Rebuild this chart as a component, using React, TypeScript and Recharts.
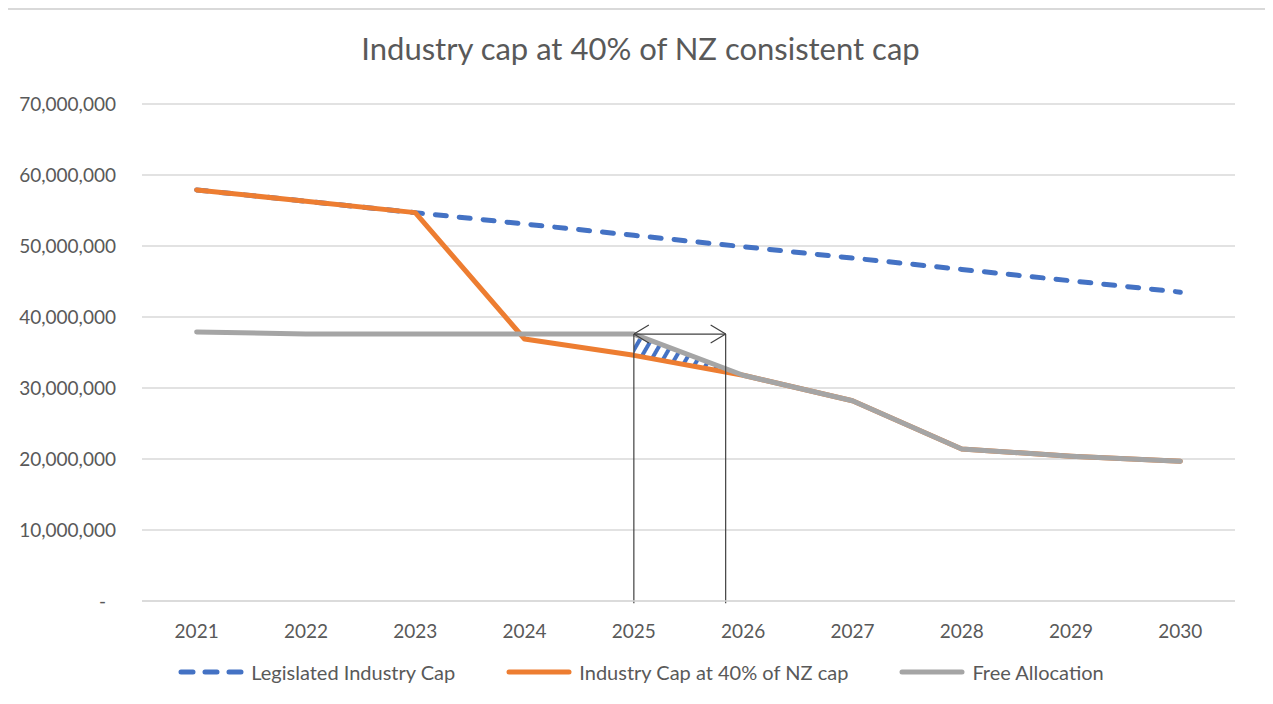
import React from 'react';
import { ComposedChart, Line, Area, XAxis, YAxis, CartesianGrid, ReferenceLine } from 'recharts';

const years = [2021, 2022, 2023, 2024, 2025, 2026, 2027, 2028, 2029, 2030];
const legislatedCap = [57900000, 56300000, 54700000, 53100000, 51500000, 49900000, 48300000, 46700000, 45100000, 43500000];
const industryCap40 = [57900000, 56300000, 54700000, 36900000, 34600000, 31800000, 28200000, 21400000, 20400000, 19700000];
const freeAllocation = [37900000, 37600000, 37600000, 37600000, 37600000, 31800000, 28200000, 21400000, 20400000, 19700000];
const hatchYears = [2025, 2026];
const yTicks = [0, 10000000, 20000000, 30000000, 40000000, 50000000, 60000000, 70000000];

const annotationStart = 2025;
const annotationEnd = 2025.84;
const annotationLevel = 37600000;
const annotationBottom = -300000;

const seriesNames = ['Legislated Industry Cap', 'Industry Cap at 40% of NZ cap', 'Free Allocation'];
const BLUE = '#4472C4';
const ORANGE = '#ED7D31';
const GRAY = '#A5A5A5';
const TEXT = '#595959';
const FONT = 'Lato, "Open Sans", sans-serif';

const data = years.map((year, i) => ({
  year,
  legislated: legislatedCap[i],
  industry: industryCap40[i],
  free: freeAllocation[i],
  hatch: hatchYears.includes(year) ? [industryCap40[i], freeAllocation[i]] : null,
}));

const fmt = (v: number) => v.toLocaleString('en-US');

const YTick = (props: any) => {
  const { x, y, payload } = props;
  const isZero = payload.value === 0;
  return (
    <text x={isZero ? x - 10 : x} y={y} dy="0.35em" textAnchor="end" fill={TEXT} fontSize={19} fontFamily={FONT}>
      {isZero ? '-' : fmt(payload.value)}
    </text>
  );
};

const ArrowLine = (props: any) => {
  const { x1, y1, x2, y2 } = props;
  return (
    <line x1={x1} y1={y1} x2={x2} y2={y2} stroke="#404040" strokeWidth={1.2}
      markerStart="url(#openArrow)" markerEnd="url(#openArrow)" />
  );
};

const PlainLine = (props: any) => {
  const { x1, y1, x2, y2 } = props;
  return <line x1={x1} y1={y1} x2={x2} y2={y2} stroke="#404040" strokeWidth={1.2} />;
};

const LegendRow = () => (
  <div style={{ position: 'absolute', left: 0, width: 1265, top: 650, display: 'flex', justifyContent: 'center', alignItems: 'center', fontFamily: FONT, fontSize: 20, color: TEXT }}>
    {seriesNames.map((name, i) => (
      <div key={name} style={{ display: 'flex', alignItems: 'center', marginRight: i < 2 ? 50 : 0 }}>
        <svg width={68} height={12} style={{ marginRight: 6 }}>
          <line x1={4} y1={6} x2={64} y2={6}
            stroke={[BLUE, ORANGE, GRAY][i]} strokeWidth={5}
            strokeLinecap="round"
            strokeDasharray={i === 0 ? '12 12' : undefined} />
        </svg>
        <span>{name}</span>
      </div>
    ))}
  </div>
);

export default function App() {
  return (
    <div style={{ position: 'relative', marginLeft: -2, width: 1267, height: 688, borderTop: '2px solid #d9d9d9', borderLeft: '2px solid #d9d9d9', boxSizing: 'border-box', background: '#fff' }}>
      <div style={{ position: 'absolute', left: 0, width: 1265, top: 19, textAlign: 'center', fontFamily: FONT, fontSize: 31, color: TEXT }}>
        Industry cap at 40% of NZ consistent cap
      </div>
      <div style={{ position: 'absolute', left: 0, top: 0 }}>
        <ComposedChart width={1265} height={686} data={data} margin={{ top: 94, right: 38, bottom: 0, left: 0 }}>
          <defs>
            <pattern id="hatch" patternUnits="userSpaceOnUse" width={10} height={10} patternTransform="rotate(30)">
              <rect x={0} y={0} width={4} height={10} fill={BLUE} />
            </pattern>
            <marker id="openArrow" viewBox="0 0 16 20" markerWidth={16} markerHeight={20} refX={16} refY={10}
              orient="auto-start-reverse" markerUnits="userSpaceOnUse">
              <path d="M1,1 L16,10 L1,19" fill="none" stroke="#404040" strokeWidth={1.2} />
            </marker>
          </defs>
          <CartesianGrid vertical={false} stroke="#d9d9d9" strokeWidth={1.5} />
          <XAxis dataKey="year" type="number" domain={[2020.5, 2030.5]} ticks={years} allowDataOverflow
            height={95} axisLine={{ stroke: '#d9d9d9', strokeWidth: 1.5 }} tickLine={false} tickMargin={18}
            tick={{ fill: TEXT, fontSize: 19, fontFamily: FONT }} />
          <YAxis type="number" domain={[0, 70000000]} ticks={yTicks} width={134} axisLine={false} tickLine={false}
            tickMargin={20} tick={<YTick />} />
          <Area dataKey="hatch" type="linear" stroke="none" fill="url(#hatch)" fillOpacity={1}
            isAnimationActive={false} connectNulls={false} activeDot={false} dot={false} />
          <Line dataKey="legislated" type="linear" stroke={BLUE} strokeWidth={5} strokeDasharray="11 13"
            strokeLinecap="round" dot={false} activeDot={false} isAnimationActive={false} />
          <Line dataKey="industry" type="linear" stroke={ORANGE} strokeWidth={5}
            strokeLinecap="round" strokeLinejoin="round" dot={false} activeDot={false} isAnimationActive={false} />
          <Line dataKey="free" type="linear" stroke={GRAY} strokeWidth={5}
            strokeLinecap="round" strokeLinejoin="round" dot={false} activeDot={false} isAnimationActive={false} />
          <ReferenceLine ifOverflow="visible" shape={<PlainLine />}
            segment={[{ x: annotationStart, y: annotationLevel }, { x: annotationStart, y: annotationBottom }]} />
          <ReferenceLine ifOverflow="visible" shape={<PlainLine />}
            segment={[{ x: annotationEnd, y: annotationLevel }, { x: annotationEnd, y: annotationBottom }]} />
          <ReferenceLine ifOverflow="visible" shape={<ArrowLine />}
            segment={[{ x: annotationStart, y: annotationLevel }, { x: annotationEnd, y: annotationLevel }]} />
        </ComposedChart>
      </div>
      <LegendRow />
    </div>
  );
}
